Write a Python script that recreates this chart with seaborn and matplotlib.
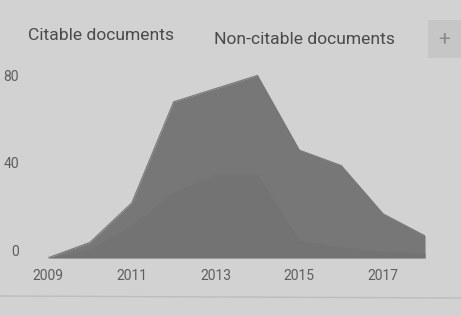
import matplotlib
matplotlib.use("Agg")
import matplotlib.pyplot as plt
import matplotlib.transforms as mtransforms
import seaborn as sns
import numpy as np
import pandas as pd

years = [2009, 2010, 2011, 2012, 2013, 2014, 2015, 2016, 2017, 2018]
citable = [0, 4, 15, 30, 38, 38, 8, 5, 3, 2]
non_citable = [0, 3, 10, 41, 39, 45, 41, 37, 17, 8]
xticks = [2009, 2011, 2013, 2015, 2017]
yticks = [0, 40, 80]

df = pd.DataFrame({"year": years, "citable": citable, "non_citable": non_citable})
df["total"] = df["citable"] + df["non_citable"]

sns.set_theme(style="white")
plt.rcParams["font.family"] = ["Roboto", "DejaVu Sans"]

bg = "#d2d2d2"
fig = plt.figure(figsize=(4.61, 3.16), dpi=100, facecolor=bg)
ax = fig.add_axes([0.104, 0.184, 0.818, 0.626])
ax.set_facecolor(bg)

# stacked areas: citable at the bottom, non-citable on top
ax.fill_between(df["year"], 0, df["total"], color="#777777", lw=0)
ax.fill_between(df["year"], 0, df["citable"], color="#737373", lw=0)
sns.lineplot(data=df, x="year", y="total", ax=ax, color="#777777", lw=0.8)

ax.set_xlim(2009, 2018)
ax.set_ylim(0, 90)
ax.set_xticks(xticks)
ax.set_yticks(yticks)
ax.set_xlabel("")
ax.set_ylabel("")
ax.tick_params(axis="both", length=0, labelsize=10, labelcolor="#5e5e5e")
ax.tick_params(axis="x", pad=8)
ax.tick_params(axis="y", pad=21)
for s in ax.spines.values():
    s.set_visible(False)
# y labels sit a little above their gridline in the reference
offset = mtransforms.ScaledTranslation(0, 7 / 100, fig.dpi_scale_trans)
for lab in ax.get_yticklabels():
    lab.set_transform(lab.get_transform() + offset)

# legend-like header
fig.text(28 / 461, 1 - 36 / 316, "Citable documents", fontsize=12.6,
         color="#4a4a4a", va="center", ha="left")
fig.text(214 / 461, 1 - 39 / 316, "Non-citable documents", fontsize=12.6,
         color="#4a4a4a", va="center", ha="left")
fig.patches.append(plt.Rectangle((428 / 461, 1 - 58 / 316), 33 / 461, 38 / 316,
                                 transform=fig.transFigure, color="#c6c6c6", lw=0))
fig.text(444 / 461, 1 - 39 / 316, "+", fontsize=15, color="#8a8a8a",
         va="center", ha="center")

# bottom separator line
fig.add_artist(plt.Line2D([0, 1], [1 - 296 / 316, 1 - 298 / 316],
                          transform=fig.transFigure, color="#bdbdbd", lw=1))

fig.savefig("out.png", dpi=100, facecolor=bg)
